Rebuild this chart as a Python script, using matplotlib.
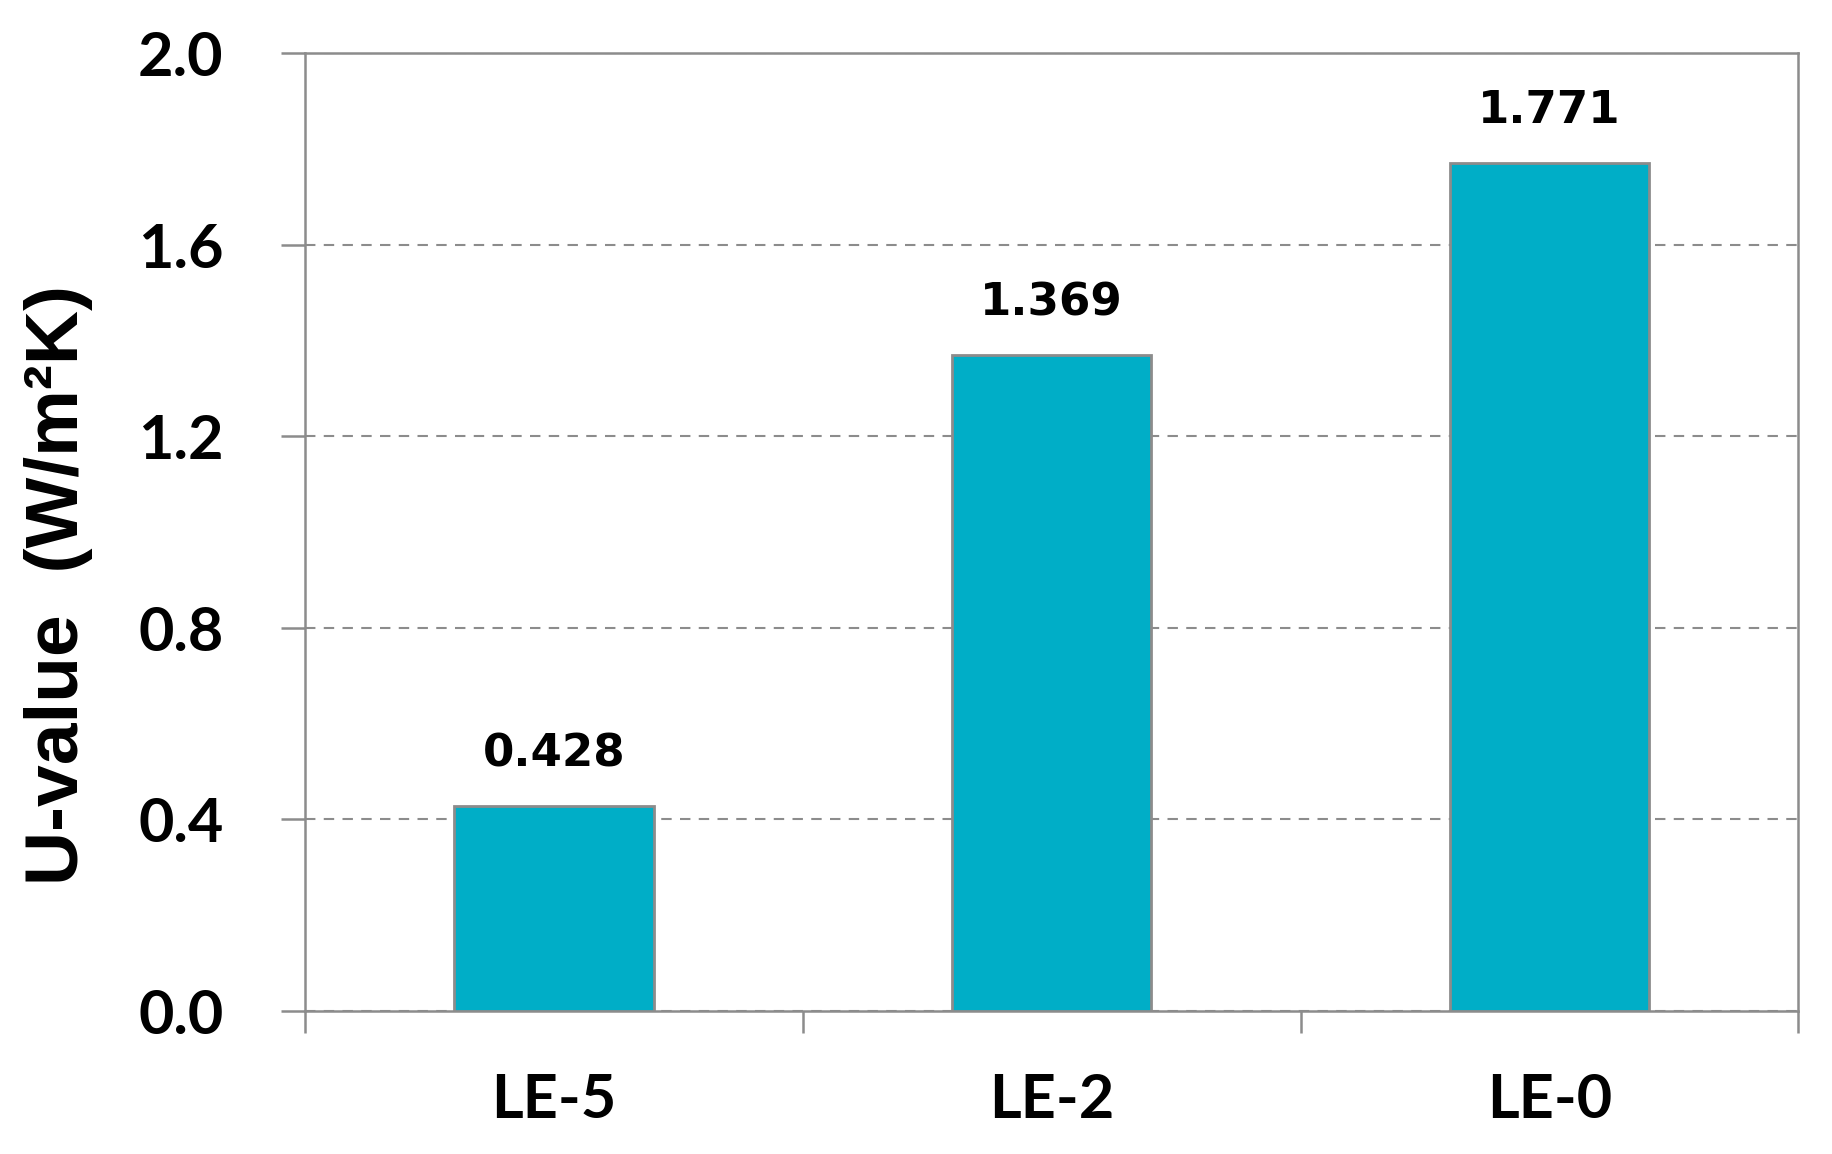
import matplotlib
matplotlib.use('Agg')
import matplotlib.pyplot as plt
import numpy as np

# Data
samples = ['LE-5', 'LE-2', 'LE-0']
u_values = [0.428, 1.369, 1.771]
y_ticks = [0.0, 0.4, 0.8, 1.2, 1.6, 2.0]

bar_color = '#00AEC7'
line_gray = '#8C8C8C'

fig = plt.figure(figsize=(18.33, 11.54), dpi=100)
ax = fig.add_axes([0.1665, 0.124, 0.8145, 0.830])

x = np.arange(len(samples))
ax.bar(x, u_values, width=0.4, color=bar_color, edgecolor=line_gray,
       linewidth=2, zorder=3)

# value labels above bars
for xi, v in zip(x, u_values):
    ax.annotate(f'{v:.3f}', (xi, v), xytext=(0, 22), textcoords='offset points',
                ha='center', va='bottom', fontsize=32.5, fontweight='bold',
                family='DejaVu Sans')

ax.set_xlim(-0.5, len(samples) - 0.5)
ax.set_ylim(0, 2.0)

# y axis
ax.set_yticks(y_ticks)
ax.set_yticklabels([f'{t:.1f}' for t in y_ticks], fontsize=44,
                   fontweight='bold', family='Lato')
ax.tick_params(axis='y', direction='out', length=17, width=1.8,
               color=line_gray, pad=42)
ax.yaxis.grid(True, linestyle=(0, (5, 4)), color=line_gray, linewidth=1.5,
              zorder=0)

# x axis: labels at centres, ticks at boundaries
ax.set_xticks(x)
ax.set_xticklabels(samples, fontsize=44, fontweight='bold', family='Lato')
ax.tick_params(axis='x', which='major', length=0, pad=44)
ax.set_xticks(np.arange(-0.5, len(samples)), minor=True)
ax.tick_params(axis='x', which='minor', direction='out', length=16,
               width=1.8, color=line_gray)

for s in ax.spines.values():
    s.set_color(line_gray)
    s.set_linewidth(1.8)

ax.set_ylabel('U-value  (W/m²K)', fontsize=54, fontweight='bold',
              family='Liberation Sans')
ax.yaxis.set_label_coords(-0.142, 0.445)

fig.savefig('out.png', dpi=100)
